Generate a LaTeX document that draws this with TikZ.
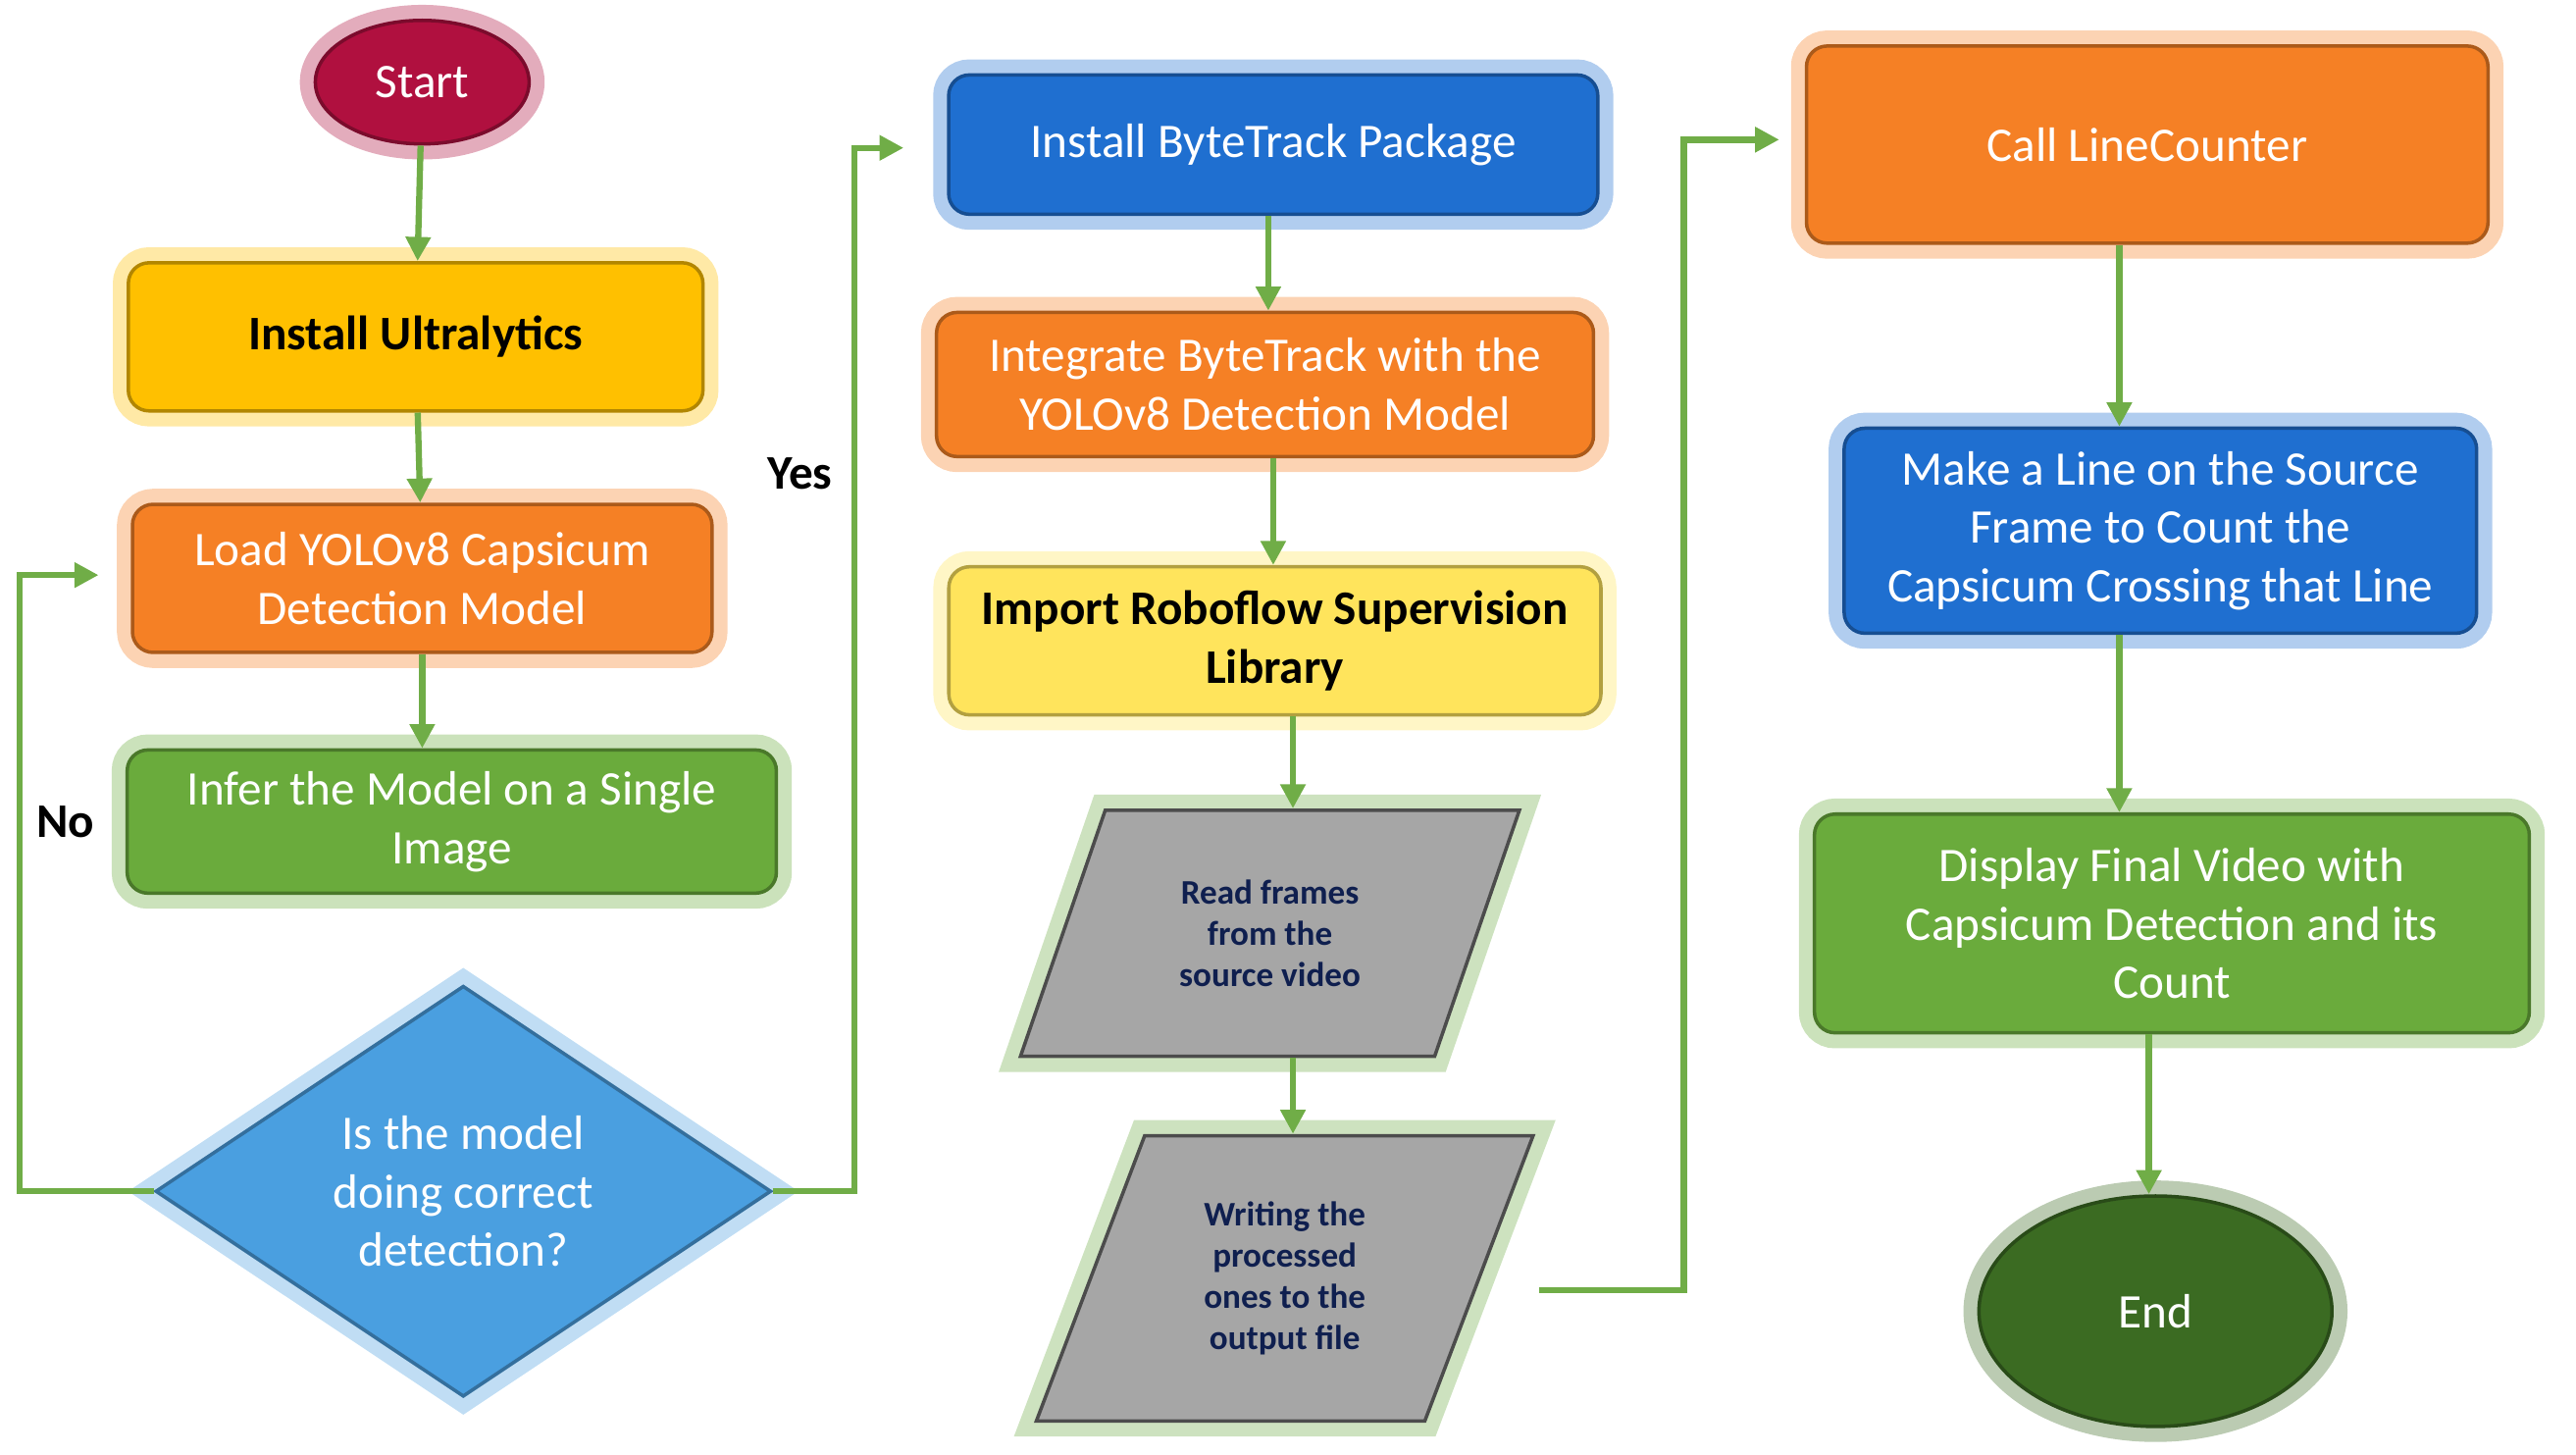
\documentclass[tikz,border=0pt]{standalone}
\usepackage{fontspec}
\setmainfont{Carlito}
\usetikzlibrary{shapes.geometric,arrows.meta}
\definecolor{cyel}{HTML}{FFC000}
\definecolor{clyel}{HTML}{FFE45C}
\definecolor{corg}{HTML}{F58025}
\definecolor{cgrn}{HTML}{6AAB3C}
\definecolor{cblu}{HTML}{1F6FD0}
\definecolor{cdia}{HTML}{4A9FE0}
\definecolor{cred}{HTML}{B0103F}
\definecolor{cend}{HTML}{3B6B22}
\definecolor{cgry}{HTML}{A6A6A6}
\definecolor{cnavy}{HTML}{0F1F4F}
\definecolor{carr}{HTML}{70AD47}
\tikzset{
  glow/.style={preaction={draw=#1, line width=9pt, opacity=0.35}},
  box/.style={draw=#1!70!black, fill=#1, rounded corners=6pt, line width=1pt, align=center, text=white, glow=#1},
  io/.style={trapezium, trapezium left angle=68, trapezium right angle=112, trapezium stretches=true,
    draw=gray!60!black, fill=cgry, line width=1pt, align=center, text=cnavy, font=\bfseries, glow=carr},
  flow/.style={-{Triangle[length=7pt,width=7pt]}, draw=carr, line width=1.8pt},
  every node/.style={font=\fontsize{14}{17}\selectfont}
}
\begin{document}
\begin{tikzpicture}[x=0.01675cm, y=-0.01675cm]
  \useasboundingbox (0,0) rectangle (1568,885);

  \node[ellipse, box=cred, minimum width=2.18cm, minimum height=1.26cm] (start) at (257,50) {Start};
  \node[box=cyel, text=black, font=\fontsize{14}{17}\selectfont\bfseries, minimum width=5.86cm, minimum height=1.51cm] (ultra) at (253,205) {Install Ultralytics};
  \node[box=corg, minimum width=5.91cm, minimum height=1.51cm] (load) at (257,352) {Load YOLOv8 Capsicum\\Detection Model};
  \node[box=cgrn, minimum width=6.62cm, minimum height=1.46cm] (infer) at (275,500) {Infer the Model on a Single\\Image};
  \node[diamond, box=cdia, rounded corners=0pt, inner sep=0pt, minimum width=6.28cm, minimum height=3.52cm] (check) at (282,725) {Is the model\\doing correct\\detection?};

  \node[box=cblu, minimum width=6.62cm, minimum height=1.42cm] (byte) at (775,88) {Install ByteTrack Package};
  \node[box=corg, minimum width=6.70cm, minimum height=1.47cm] (integ) at (770,234) {Integrate ByteTrack with the\\YOLOv8 Detection Model};
  \node[box=clyel, text=black, font=\fontsize{14}{17}\selectfont\bfseries, minimum width=6.65cm, minimum height=1.51cm] (robo) at (776,390) {Import Roboflow Supervision\\Library};
  \node[io, minimum width=5.11cm, minimum height=2.51cm] (read) at (773,568) {Read frames\\from the\\source video};
  \node[io, minimum width=5.08cm, minimum height=2.91cm] (write) at (782,778) {Writing the\\processed\\ones to the\\output file};

  \node[box=corg, minimum width=6.95cm, minimum height=2.01cm] (call) at (1307,88) {Call LineCounter};
  \node[box=cblu, minimum width=6.45cm, minimum height=2.09cm] (line) at (1315,323) {Make a Line on the Source\\Frame to Count the\\Capsicum Crossing that Line};
  \node[box=cgrn, minimum width=7.29cm, minimum height=2.23cm] (disp) at (1322,562) {Display Final Video with\\Capsicum Detection and its\\Count};
  \node[ellipse, box=cend, minimum width=3.6cm, minimum height=2.35cm] (end) at (1312,798) {End};

  \coordinate (noin) at (60,350);
  \coordinate (yesin) at (550,90);
  \coordinate (callin) at (1083,85);

  \draw[flow] (start) -- (ultra);
  \draw[flow] (ultra) -- (load);
  \draw[flow] (load.south -| 257,0) -- (infer.north -| 257,0);
  \draw[flow] (check.west) -- (12,725) |- (noin);
  \draw[flow] (check.east) -- (520,725) |- (yesin);
  \draw[flow] (byte.south -| 772,0) -- (integ.north -| 772,0);
  \draw[flow] (integ.south -| 775,0) -- (robo.north -| 775,0);
  \draw[flow] (robo.south -| 787,0) -- (read.north -| 787,0);
  \draw[flow] (read.south -| 787,0) -- (write.north -| 787,0);
  \draw[flow] (937,785) -- (1025,785) |- (callin);
  \draw[flow] (call.south -| 1290,0) -- (line.north -| 1290,0);
  \draw[flow] (line.south -| 1290,0) -- (disp.north -| 1290,0);
  \draw[flow] (disp.south -| 1308,0) -- (end.north -| 1308,0);

  \node[font=\fontsize{14}{17}\selectfont\bfseries] (no) at (40,500) {No};
  \node[font=\fontsize{14}{17}\selectfont\bfseries] (yes) at (487,288) {Yes};
\end{tikzpicture}
\end{document}
